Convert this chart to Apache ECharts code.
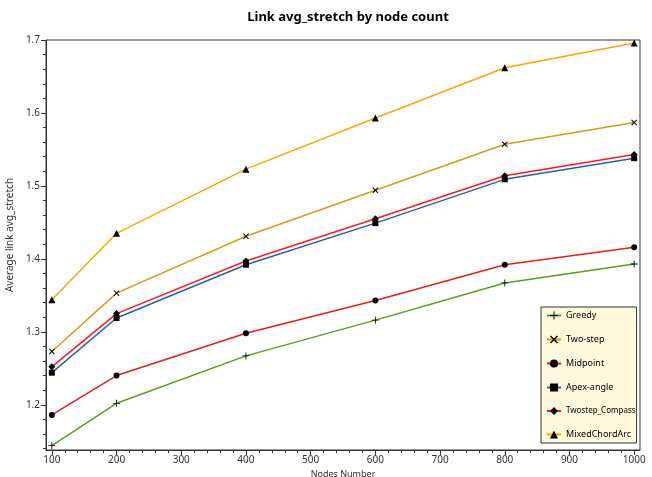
<!DOCTYPE html>
<html>
<head>
<meta charset="utf-8">
<script src="https://cdn.jsdelivr.net/npm/echarts@6/dist/echarts.min.js"></script>
<style>
  html, body { margin: 0; padding: 0; background: #fff; }
  #chart { width: 652px; height: 477px; }
</style>
</head>
<body>
<div id="chart"></div>
<script>
// node counts on the x axis
const nodes = [100, 200, 400, 600, 800, 1000]

// average link stretch per method
const greedy = [1.144, 1.202, 1.267, 1.316, 1.367, 1.393]
const twoStep = [1.273, 1.353, 1.431, 1.494, 1.557, 1.587]
const midpoint = [1.186, 1.240, 1.298, 1.343, 1.392, 1.416]
const apexAngle = [1.244, 1.319, 1.392, 1.449, 1.509, 1.538]
const twostepCompass = [1.252, 1.325, 1.397, 1.455, 1.514, 1.543]
const mixedChordArc = [1.344, 1.435, 1.523, 1.593, 1.662, 1.696]

// tick labels
const xMajorTicks = [100, 200, 300, 400, 500, 600, 700, 800, 900, 1000]
const xMinorTicks = [120, 140, 160, 180, 220, 240, 260, 280, 320, 340, 360, 380,
  420, 440, 460, 480, 520, 540, 560, 580, 620, 640, 660, 680, 720, 740, 760, 780,
  820, 840, 860, 880, 920, 940, 960, 980]
const yMajorTicks = [1.2, 1.3, 1.4, 1.5, 1.6, 1.7]
const yMinorTicks = [1.14, 1.16, 1.18, 1.22, 1.24, 1.26, 1.28, 1.32, 1.34, 1.36, 1.38,
  1.42, 1.44, 1.46, 1.48, 1.52, 1.54, 1.56, 1.58, 1.62, 1.64, 1.66, 1.68]

const font = 'Noto Sans'
const plusPath = 'path://M4.4 0h1.2v4.4H10v1.2H5.6V10H4.4V5.6H0V4.4h4.4z'
const crossPath = 'path://M0 1.2L1.2 0L5 3.8L8.8 0L10 1.2L6.2 5L10 8.8L8.8 10L5 6.2L1.2 10L0 8.8L3.8 5z'

function makeSeries(name, values, color, symbol, size) {
  return {
    name: name,
    type: 'line',
    data: nodes.map((n, i) => [n, values[i]]),
    symbol: symbol,
    symbolSize: size,
    showSymbol: true,
    lineStyle: { color: color, width: 1.5 },
    itemStyle: { color: '#000' },
    emphasis: { disabled: true }
  }
}

const chart = echarts.init(document.getElementById('chart'))
chart.setOption({
  animation: false,
  title: {
    text: 'Link avg_stretch by node count',
    left: 343,
    textAlign: 'center',
    top: 6,
    textStyle: { fontFamily: font, fontWeight: 'bold', fontSize: 13, color: '#000' }
  },
  grid: {
    left: 46,
    right: 12,
    top: 40,
    bottom: 27,
    show: true,
    borderColor: '#333',
    borderWidth: 1,
    containLabel: false,
    outerBoundsMode: 'none'
  },
  legend: {
    orient: 'vertical',
    left: 541,
    top: 307,
    padding: [4, 1, 4, 5],
    itemGap: 15,
    itemWidth: 14,
    itemHeight: 10,
    backgroundColor: '#FFF8DC',
    borderColor: '#333',
    borderWidth: 1,
    borderRadius: 0,
    textStyle: { fontFamily: font, fontSize: 9, color: '#000' },
    data: ['Greedy', 'Two-step', 'Midpoint', 'Apex-angle',
      { name: 'Twostep_Compass', textStyle: { fontSize: 8 } }, 'MixedChordArc']
  },
  xAxis: [
    {
      type: 'value',
      min: 91,
      max: 1009,
      name: 'Nodes Number',
      nameLocation: 'middle',
      nameGap: 19,
      nameTextStyle: { fontFamily: font, fontSize: 9, color: '#333' },
      axisLine: { show: true, onZero: false, lineStyle: { color: '#333' } },
      axisTick: { show: true, customValues: xMajorTicks, length: 5, lineStyle: { color: '#333' } },
      axisLabel: {
        customValues: xMajorTicks,
        formatter: v => String(v),
        fontFamily: font, fontSize: 10, color: '#333', margin: 5
      },
      splitLine: { show: false }
    },
    {
      type: 'value',
      min: 91,
      max: 1009,
      position: 'bottom',
      axisLine: { show: false },
      axisTick: { show: true, customValues: xMinorTicks, length: 3, lineStyle: { color: '#333' } },
      axisLabel: { show: false },
      splitLine: { show: false }
    }
  ],
  yAxis: [
    {
      type: 'value',
      min: 1.138,
      max: 1.7,
      name: 'Average link avg_stretch',
      nameLocation: 'middle',
      nameGap: 28,
      nameTextStyle: { fontFamily: font, fontSize: 10, color: '#333', padding: [0, 0, 0, 20] },
      axisLine: { show: true, onZero: false, lineStyle: { color: '#333' } },
      axisTick: { show: true, customValues: yMajorTicks, length: 5, lineStyle: { color: '#333' } },
      axisLabel: { customValues: yMajorTicks, fontFamily: font, fontSize: 10, color: '#333', margin: 6 },
      splitLine: { show: false }
    },
    {
      type: 'value',
      min: 1.138,
      max: 1.7,
      position: 'left',
      axisLine: { show: false },
      axisTick: { show: true, customValues: yMinorTicks, length: 3, lineStyle: { color: '#333' } },
      axisLabel: { show: false },
      splitLine: { show: false }
    }
  ],
  series: [
    makeSeries('Greedy', greedy, '#5a9e1e', plusPath, 7),
    makeSeries('Two-step', twoStep, '#d49d12', crossPath, 6),
    makeSeries('Midpoint', midpoint, '#e0201c', 'circle', 6),
    makeSeries('Apex-angle', apexAngle, '#2f5d9e', 'rect', 6),
    makeSeries('Twostep_Compass', twostepCompass, '#ff1a1a', 'diamond', 7),
    makeSeries('MixedChordArc', mixedChordArc, '#ffa500', 'triangle', 7)
  ]
})
</script>
</body>
</html>
